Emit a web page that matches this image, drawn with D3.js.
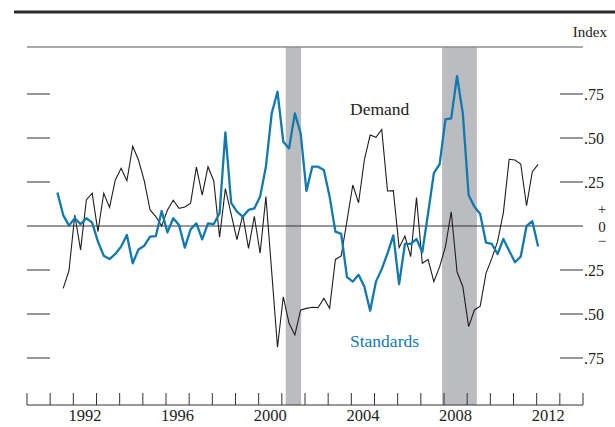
<!DOCTYPE html>
<html>
<head>
<meta charset="utf-8">
<script src="https://cdn.jsdelivr.net/npm/d3@7"></script>
<style>
  body { margin: 0; background: #fff; }
  text { font-family: "Liberation Serif", "Times New Roman", serif; fill: #222; }
</style>
</head>
<body>
<div id="chart"></div>
<script>
var width = 615;
var height = 427;

// quarterly survey data, first quarter is 1991 Q2, last is 2012 Q1
var startYear = 1991, startQuarter = 2;

var standards = [
  0.19, 0.062, 0.002, 0.044, 0.011, 0.044, 0.019, -0.089, -0.169, -0.188,
  -0.159, -0.117, -0.051, -0.212, -0.133, -0.112, -0.06, -0.057, 0.085, -0.036,
  0.044, 0.006, -0.123, -0.019, 0.015, -0.076, 0.015, 0.011, 0.072, 0.532,
  0.132, 0.081, 0.053, 0.091, 0.10, 0.167, 0.337, 0.64, 0.763, 0.479,
  0.441, 0.64, 0.527, 0.199, 0.337, 0.337, 0.318, 0.167, -0.032, -0.045,
  -0.29, -0.316, -0.277, -0.345, -0.481, -0.316, -0.245, -0.155, -0.053, -0.33,
  -0.102, -0.102, -0.074, -0.15, 0.072, 0.30, 0.352, 0.606, 0.612, 0.852,
  0.64, 0.176, 0.11, 0.068, -0.095, -0.102, -0.159, -0.074, -0.14, -0.206,
  -0.174, 0.0, 0.027, -0.117
];

var demand = [
  null, -0.354, -0.254, 0.062, -0.136, 0.148, 0.186, -0.032, 0.186, 0.106,
  0.262, 0.328, 0.257, 0.453, 0.375, 0.256, 0.091, 0.053, 0.0, 0.091,
  0.146, 0.10, 0.108, 0.13, 0.335, 0.176, 0.337, 0.256, -0.063, 0.212,
  0.067, -0.078, 0.062, -0.127, 0.055, -0.155, 0.167, -0.26, -0.689, -0.402,
  -0.553, -0.619, -0.477, -0.468, -0.462, -0.464, -0.411, -0.468, -0.19, -0.17,
  0.03, 0.233, 0.132, 0.375, 0.517, 0.504, 0.549, 0.199, 0.201, -0.123,
  -0.057, -0.174, 0.161, -0.212, -0.19, -0.316, -0.231, -0.117, 0.081, -0.26,
  -0.345, -0.572, -0.477, -0.455, -0.269, -0.184, -0.089, 0.076, 0.379, 0.375,
  0.352, 0.115, 0.309, 0.35
];

// NBER recessions, peak and trough as [year, month]
var recessions = [
  [[2001, 3], [2001, 11]],
  [[2007, 12], [2009, 6]]
];

var yearLabels = [1992, 1996, 2000, 2004, 2008, 2012];
var yTicks = [0.75, 0.5, 0.25, -0.25, -0.5, -0.75];
var yTickLabels = [".75", ".50", ".25", ".25", ".50", ".75"];

// quarter index -> fractional year
function quarterTime(i) {
  var q = startQuarter - 1 + i;
  return startYear + Math.floor(q / 4) + (q % 4) / 4 + 0.0625;
}
function monthTime(ym) { return ym[0] + (ym[1] - 1) / 12; }

var plotLeft = 27, plotRight = 583, plotTop = 47, plotBottom = 405;

var x = d3.scaleLinear().domain([1990, 2014]).range([plotLeft, plotRight]);
var y = d3.scaleLinear().domain([-1.017, 1.017]).range([plotBottom, plotTop]);

var svg = d3.select('#chart').append('svg')
    .attr('width', width)
    .attr('height', height);

// heavy rule at the top
svg.append('line')
    .attr('x1', 14).attr('x2', width)
    .attr('y1', 12).attr('y2', 12)
    .attr('stroke', '#2a2a2a').attr('stroke-width', 3);

svg.append('text')
    .attr('x', 607).attr('y', 37)
    .attr('text-anchor', 'end')
    .style('font-size', '15px')
    .text('Index');

// recession shading
svg.selectAll('.rec')
    .data(recessions)
    .enter().append('rect')
    .attr('class', 'rec')
    .attr('x', function(d) { return x(monthTime(d[0])); })
    .attr('width', function(d) { return x(monthTime(d[1])) - x(monthTime(d[0])); })
    .attr('y', plotTop)
    .attr('height', plotBottom - plotTop)
    .attr('fill', '#bbbcc0');

// gray frame line at the top of the plot
svg.append('line')
    .attr('x1', plotLeft).attr('x2', plotRight)
    .attr('y1', plotTop).attr('y2', plotTop)
    .attr('stroke', '#8c8c8c').attr('stroke-width', 1.5);

// y ticks on both sides
var tickG = svg.append('g');
tickG.selectAll('.lt')
    .data(yTicks)
    .enter().append('line')
    .attr('class', 'lt')
    .attr('x1', plotLeft).attr('x2', plotLeft + 23)
    .attr('y1', function(d) { return y(d); })
    .attr('y2', function(d) { return y(d); })
    .attr('stroke', '#333').attr('stroke-width', 1);
tickG.selectAll('.rt')
    .data(yTicks)
    .enter().append('line')
    .attr('class', 'rt')
    .attr('x1', plotRight - 23).attr('x2', plotRight)
    .attr('y1', function(d) { return y(d); })
    .attr('y2', function(d) { return y(d); })
    .attr('stroke', '#333').attr('stroke-width', 1);
tickG.selectAll('.rl')
    .data(yTicks)
    .enter().append('text')
    .attr('class', 'rl')
    .attr('x', plotRight + 1)
    .attr('y', function(d) { return y(d); })
    .attr('dy', '0.35em')
    .style('font-size', '16px')
    .text(function(d, i) { return yTickLabels[i]; });

// zero line
svg.append('line')
    .attr('x1', plotLeft).attr('x2', plotRight)
    .attr('y1', y(0)).attr('y2', y(0))
    .attr('stroke', '#333').attr('stroke-width', 1);

svg.append('text').attr('x', 602).attr('y', y(0) - 17).attr('dy', '0.35em')
    .attr('text-anchor', 'middle').style('font-size', '15px').text('+');
svg.append('text').attr('x', 602).attr('y', y(0) + 1).attr('dy', '0.35em')
    .attr('text-anchor', 'middle').style('font-size', '15px').text('0');
svg.append('text').attr('x', 602).attr('y', y(0) + 15).attr('dy', '0.35em')
    .attr('text-anchor', 'middle').style('font-size', '15px').text('\u2212');

// series
var line = d3.line()
    .defined(function(d) { return d != null; })
    .x(function(d, i) { return x(quarterTime(i)); })
    .y(function(d) { return y(d); });

svg.append('path')
    .datum(demand)
    .attr('d', line)
    .attr('fill', 'none')
    .attr('stroke', '#1e1e1e')
    .attr('stroke-width', 1.1)
    .attr('stroke-linejoin', 'miter');

svg.append('path')
    .datum(standards)
    .attr('d', line)
    .attr('fill', 'none')
    .attr('stroke', '#1179b0')
    .attr('stroke-width', 2.3)
    .attr('stroke-linejoin', 'round');

svg.append('text')
    .attr('x', 350).attr('y', 115)
    .style('font-size', '17.5px')
    .text('Demand');

svg.append('text')
    .attr('x', 350).attr('y', 347)
    .style('font-size', '17.5px')
    .style('fill', '#1179b0')
    .text('Standards');

// x axis: yearly ticks, labels centred in the year
var years = d3.range(1990, 2015);
svg.append('line')
    .attr('x1', plotLeft).attr('x2', plotRight)
    .attr('y1', plotBottom).attr('y2', plotBottom)
    .attr('stroke', '#333').attr('stroke-width', 1);
svg.selectAll('.xt')
    .data(years)
    .enter().append('line')
    .attr('class', 'xt')
    .attr('x1', function(d) { return x(d); })
    .attr('x2', function(d) { return x(d); })
    .attr('y1', plotBottom - 12).attr('y2', plotBottom)
    .attr('stroke', '#333').attr('stroke-width', 1);
svg.selectAll('.xl')
    .data(yearLabels)
    .enter().append('text')
    .attr('class', 'xl')
    .attr('x', function(d) { return x(d + 0.5); })
    .attr('y', 421)
    .attr('text-anchor', 'middle')
    .style('font-size', '16.5px')
    .text(function(d) { return d; });
</script>
</body>
</html>
